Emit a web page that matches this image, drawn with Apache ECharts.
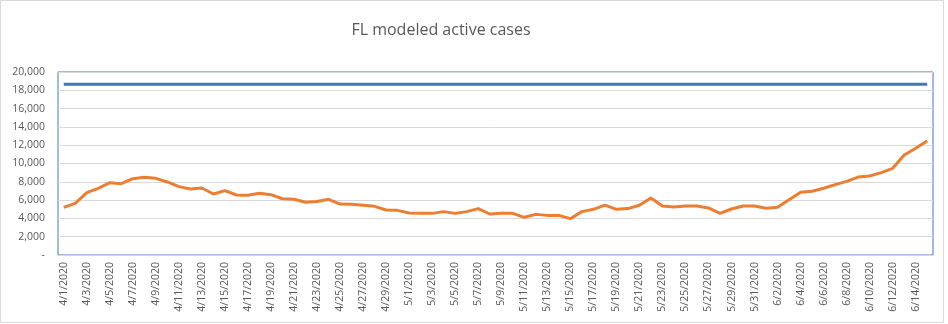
<!DOCTYPE html>
<html><head><meta charset="utf-8">
<script src="https://cdn.jsdelivr.net/npm/echarts@6/dist/echarts.min.js"></script>
<style>html,body{margin:0;padding:0;background:#fff}#c{width:948px;height:324px}</style>
</head><body><div id="c"></div>
<script>
const categories = [
"4/1/2020","4/2/2020","4/3/2020","4/4/2020","4/5/2020","4/6/2020","4/7/2020","4/8/2020","4/9/2020","4/10/2020",
"4/11/2020","4/12/2020","4/13/2020","4/14/2020","4/15/2020","4/16/2020","4/17/2020","4/18/2020","4/19/2020","4/20/2020",
"4/21/2020","4/22/2020","4/23/2020","4/24/2020","4/25/2020","4/26/2020","4/27/2020","4/28/2020","4/29/2020","4/30/2020",
"5/1/2020","5/2/2020","5/3/2020","5/4/2020","5/5/2020","5/6/2020","5/7/2020","5/8/2020","5/9/2020","5/10/2020",
"5/11/2020","5/12/2020","5/13/2020","5/14/2020","5/15/2020","5/16/2020","5/17/2020","5/18/2020","5/19/2020","5/20/2020",
"5/21/2020","5/22/2020","5/23/2020","5/24/2020","5/25/2020","5/26/2020","5/27/2020","5/28/2020","5/29/2020","5/30/2020",
"5/31/2020","6/1/2020","6/2/2020","6/3/2020","6/4/2020","6/5/2020","6/6/2020","6/7/2020","6/8/2020","6/9/2020",
"6/10/2020","6/11/2020","6/12/2020","6/13/2020","6/14/2020","6/15/2020"];

const activeCases = [
5200,5650,6810,7290,7900,7800,8340,8490,8380,7980,
7470,7210,7320,6670,7030,6560,6520,6740,6590,6150,
6090,5760,5850,6090,5570,5540,5430,5320,4920,4880,
4590,4550,4550,4740,4550,4740,5070,4480,4550,4550,
4120,4440,4330,4330,3970,4740,4990,5460,4990,5070,
5430,6230,5360,5250,5360,5360,5140,4550,5030,5360,
5360,5100,5210,6050,6850,6960,7290,7690,8050,8520,
8630,9000,9470,10930,11660,12460];

const capacity = [
18650,18650,18650,18650,18650,18650,18650,18650,18650,18650,
18650,18650,18650,18650,18650,18650,18650,18650,18650,18650,
18650,18650,18650,18650,18650,18650,18650,18650,18650,18650,
18650,18650,18650,18650,18650,18650,18650,18650,18650,18650,
18650,18650,18650,18650,18650,18650,18650,18650,18650,18650,
18650,18650,18650,18650,18650,18650,18650,18650,18650,18650,
18650,18650,18650,18650,18650,18650,18650,18650,18650,18650,
18650,18650,18650,18650,18650,18650];

const titleText = "FL modeled active cases";

const chart = echarts.init(document.getElementById('c'), null, {renderer:'canvas'});
chart.setOption({
  animation:false,
  backgroundColor:'#fff',
  graphic:[{type:'rect',shape:{x:0.5,y:0.5,width:943,height:322},style:{fill:'none',stroke:'#d9d9d9',lineWidth:1},silent:true,z:-1}],
  title:{text:titleText,left:436,top:17,textAlign:'center',
    textStyle:{fontFamily:'Open Sans',fontWeight:'normal',fontSize:16,color:'#595959'}},
  grid:{left:58,right:15,top:72,bottom:69,show:true,borderColor:'#4472C4',borderWidth:1,containLabel:false},
  xAxis:{type:'category',data:categories,boundaryGap:true,
    axisLine:{show:true,lineStyle:{color:'#d9d9d9',width:1}},
    axisTick:{show:false},
    axisLabel:{interval:1,rotate:90,margin:7,fontFamily:'Open Sans',fontSize:10.5,color:'#595959'},
    splitLine:{show:false}},
  yAxis:{type:'value',min:0,max:20000,interval:2000,
    axisLine:{show:false},axisTick:{show:false},
    axisLabel:{margin:13,fontFamily:'Open Sans',fontSize:10.5,color:'#595959',
      formatter:v=> v===0 ? '-' : v.toLocaleString('en-US')},
    splitLine:{lineStyle:{color:'#d9d9d9',width:1}}},
  series:[
    {type:'line',data:capacity,showSymbol:false,symbol:'none',lineStyle:{color:'#4472C4',width:3},itemStyle:{color:'#4472C4'},z:3},
    {type:'line',data:activeCases,showSymbol:false,symbol:'none',lineStyle:{color:'#ED7D31',width:3},itemStyle:{color:'#ED7D31'},z:4}
  ]
});
</script></body></html>
